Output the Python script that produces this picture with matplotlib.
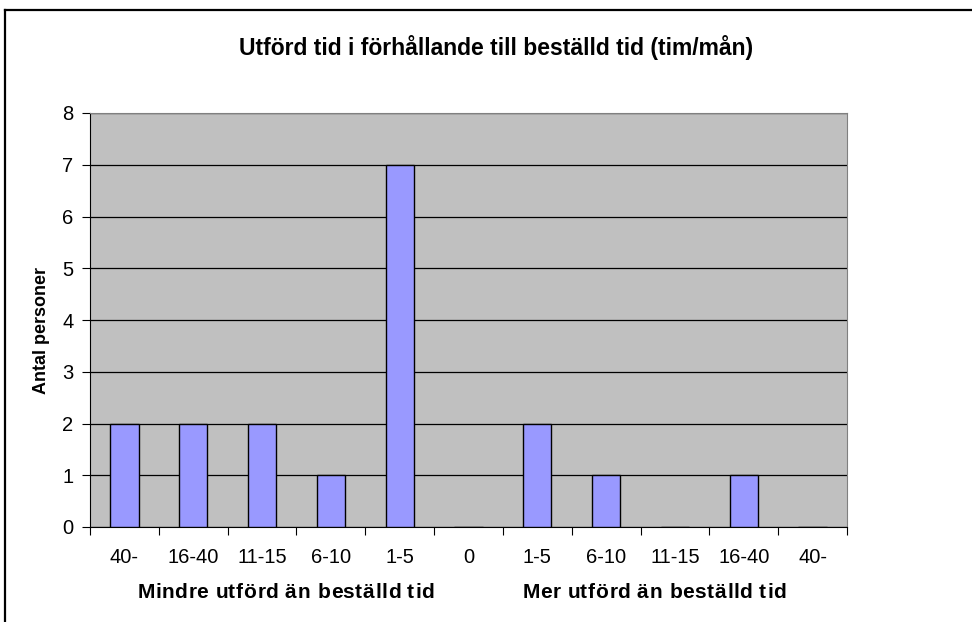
import matplotlib
matplotlib.use("Agg")
import matplotlib.pyplot as plt
from matplotlib.lines import Line2D
from matplotlib.font_manager import FontProperties, findfont
from matplotlib.ft2font import FT2Font
import numpy as np

plt.rcParams['font.family'] = ['Liberation Sans', 'DejaVu Sans']

categories = ["40-", "16-40", "11-15", "6-10", "1-5", "0",
              "1-5", "6-10", "11-15", "16-40", "40-"]
antal = [2, 2, 2, 1, 7, 0, 2, 1, 0, 1, 0]
yticks = [0, 1, 2, 3, 4, 5, 6, 7, 8]

W, H, DPI = 972, 622, 100


def spaced_text(fig, xc, yc, s, size, spacing):
    # bold text with a little extra letter spacing, centred at pixel (xc, yc)
    ft = FT2Font(findfont(FontProperties(family='Liberation Sans', weight='bold')))
    ft.set_size(size, DPI)
    adv = []
    bear = []
    for c in s:
        g = ft.load_char(ord(c))
        adv.append(g.linearHoriAdvance / 65536)
        bear.append(g.horiBearingX / 64)
    total = sum(adv) + spacing * (len(s) - 1)
    pen = xc - total / 2
    for c, a, b in zip(s, adv, bear):
        if c != " ":
            fig.text((pen + b) / W, 1 - yc / H, c, ha='left', va='center',
                     fontsize=size, fontweight='bold')
        pen += a + spacing


fig = plt.figure(figsize=(W / DPI, H / DPI), dpi=DPI)
ax = fig.add_axes([90 / W, 95 / H, 757 / W, 414 / H])
ax.set_facecolor('#C0C0C0')

x = np.arange(len(categories))
ax.bar(x, antal, width=0.41, color='#9999FF', edgecolor='black', linewidth=1, zorder=3)

ax.set_xlim(-0.5, len(categories) - 0.5)
ax.set_ylim(0, 8)
ax.set_yticks(yticks)
ax.yaxis.grid(True, color='black', linewidth=0.9)
ax.set_axisbelow(True)

# ticks on category borders, labels in the middle
ax.set_xticks(np.arange(-0.5, len(categories)), labels=[])
ax.set_xticks(x, labels=categories, minor=True)
ax.tick_params(axis='x', which='major', direction='out', length=6, color='black')
ax.tick_params(axis='x', which='minor', length=0, pad=15, labelsize=14.5)
ax.tick_params(axis='y', direction='out', length=6, labelsize=14.5, pad=6)

for s in ['top', 'right']:
    ax.spines[s].set_color('#808080')
for s in ['left', 'bottom']:
    ax.spines[s].set_color('black')

fig.text(42 / W, 1 - 331 / H, "Antal personer", rotation=90,
         ha='center', va='center', fontsize=13, fontweight='bold')

fig.text(496 / W, 1 - 47 / H, "Utförd tid i förhållande till beställd tid (tim/mån)",
         ha='center', va='center', fontsize=16.5, fontweight='bold')
spaced_text(fig, 284.5, 592, "Mindre utförd än beställd tid", 15, 0.6)
spaced_text(fig, 653, 592, "Mer utförd än beställd tid", 15, 0.6)

# chart border (top and left)
fig.add_artist(Line2D([5 / W, 1], [1 - 10 / H, 1 - 10 / H], color='black', linewidth=1.6))
fig.add_artist(Line2D([5 / W, 5 / W], [0, 1 - 10 / H], color='black', linewidth=1.6))

fig.savefig("out.png", dpi=DPI)
